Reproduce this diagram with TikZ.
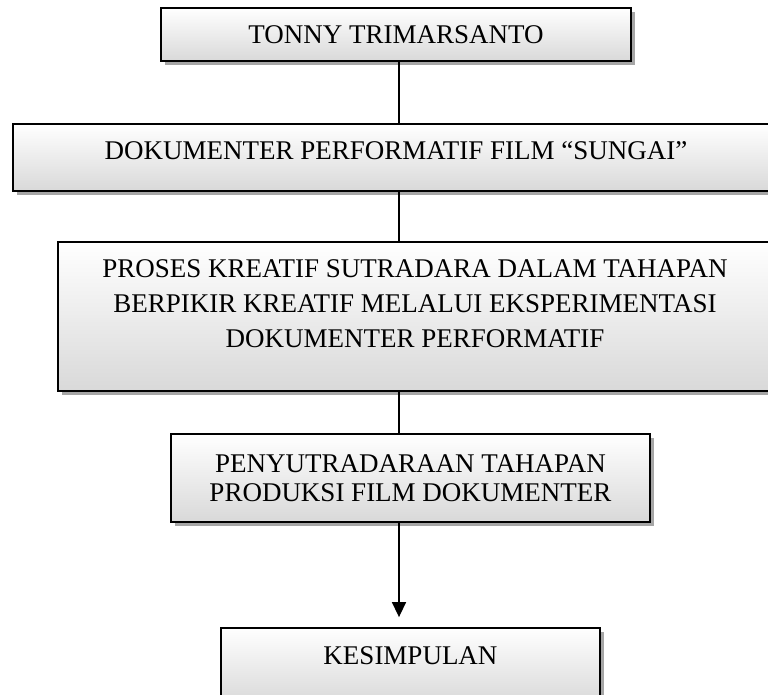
\documentclass[tikz,border=0pt]{standalone}
\usepackage{fontspec}
\setmainfont{Liberation Serif}
\usetikzlibrary{arrows.meta, shadows}

\tikzset{
  box/.style={draw, line width=1.8pt, top color=white, bottom color=gray!30,
    drop shadow={shadow xshift=4pt, shadow yshift=-4pt, fill=gray!70, opacity=1},
    align=center, inner sep=0pt, font=\fontsize{27}{29}\selectfont},
  line/.style={line width=1.5pt}
}

\begin{document}
\begin{tikzpicture}[x=1pt, y=-1pt, >={Triangle[length=15pt, width=14pt]}]
  \useasboundingbox (0,0) rectangle (768,695);
  \fill[white] (0,0) rectangle (768,695);
  \clip (0,0) rectangle (768,695);
  \coordinate (axis) at (399,0);

  \node[box, minimum width=470pt, minimum height=53pt] (tonny) at (396,34.5) {TONNY TRIMARSANTO};
  \node[box, minimum width=766pt, minimum height=67pt, text depth=13pt] (film) at (396,157.5)
    {DOKUMENTER PERFORMATIF FILM “SUNGAI”};
  \node[box, minimum width=714pt, minimum height=149pt, text depth=25pt] (proses) at (415,316.5)
    {PROSES KREATIF SUTRADARA DALAM TAHAPAN\\[6pt]
     BERPIKIR KREATIF MELALUI EKSPERIMENTASI\\[6pt]
     DOKUMENTER PERFORMATIF};
  \node[box, minimum width=479pt, minimum height=88pt] (produksi) at (410.5,478)
    {PENYUTRADARAAN TAHAPAN\\PRODUKSI FILM DOKUMENTER};
  \node[box, minimum width=379pt, minimum height=76pt, text depth=20pt] (kesimpulan) at (410.5,666)
    {KESIMPULAN};

  \draw[line] (tonny.south -| axis) -- (film.north -| axis);
  \draw[line] (film.south -| axis) -- (proses.north -| axis);
  \draw[line] (proses.south -| axis) -- (produksi.north -| axis);
  \draw[line, ->, shorten >=10pt] (produksi.south -| axis) -- (kesimpulan.north -| axis);
\end{tikzpicture}
\end{document}
